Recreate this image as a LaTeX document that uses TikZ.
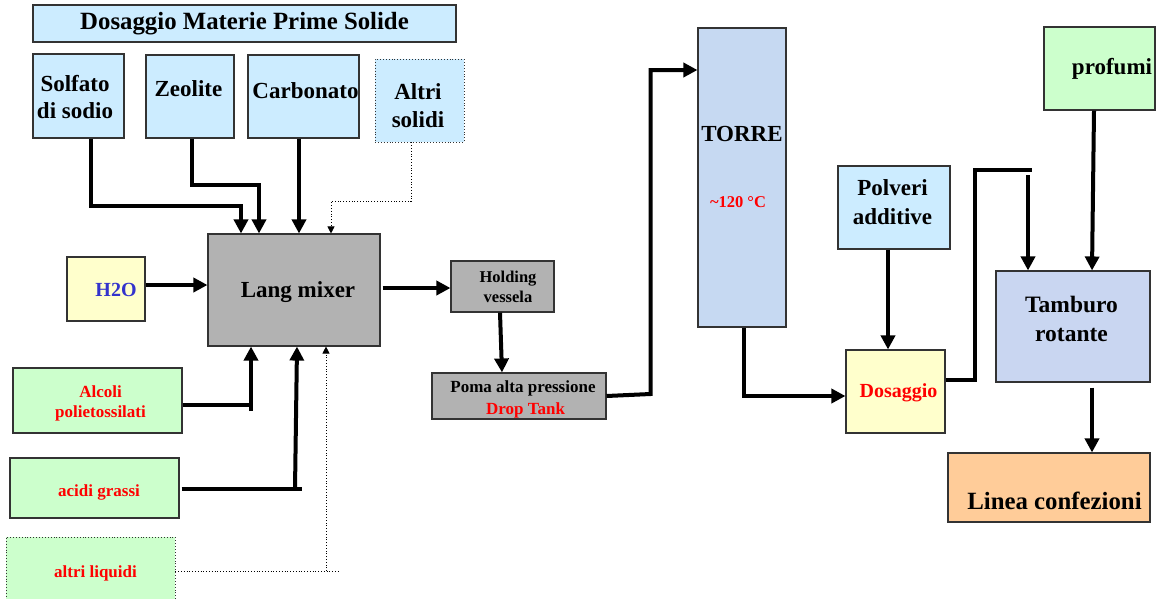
\documentclass[tikz,border=0pt]{standalone}
\usepackage{fontspec}
\setmainfont{Liberation Serif}
\usetikzlibrary{arrows.meta,calc}

\definecolor{solidblue}{HTML}{CCECFF}
\definecolor{liqgreen}{HTML}{CCFFCC}
\definecolor{paleyellow}{HTML}{FFFFCC}
\definecolor{mixgray}{HTML}{B2B2B2}
\definecolor{packorange}{HTML}{FFCC99}
\definecolor{towerblue}{HTML}{C6D9F2}
\definecolor{drumblue}{HTML}{C9D6F1}
\definecolor{labelred}{HTML}{FF0000}
\definecolor{waterblue}{HTML}{3333CC}
\definecolor{edgegray}{HTML}{333333}

\tikzset{
  box/.style={draw=edgegray, line width=1.1pt, inner sep=0pt, rectangle},
  dotbox/.style={draw=edgegray, line width=0.9pt, dotted, inner sep=0pt, rectangle},
  sz/.style n args={2}{minimum width=#1pt, minimum height=#2pt},
  txt/.style={font=\bfseries\fontsize{#1}{28}\selectfont, align=center, inner sep=0pt},
  txt/.default=23,
  flow/.style={line width=4pt, -{Triangle[length=14pt,width=14pt]}},
  pipe/.style={line width=4pt},
  thinflow/.style={line width=0.8pt, dotted, -{Triangle[length=7pt,width=7pt]}},
  thinpipe/.style={line width=0.8pt, dotted},
}

\begin{document}
\begin{tikzpicture}[x=1pt,y=-1pt]
\useasboundingbox (0,0) rectangle (1164,598);
\fill[white] (0,0) rectangle (1164,598);

% ---- solid raw materials
\node[box, fill=solidblue, sz={423}{37}] (title) at (244.5,23.5) {};
\node[txt=24.8] (ttitle) at (244.5,23.5) {Dosaggio Materie Prime Solide};

\node[box, fill=solidblue, sz={91}{84}] (solf) at (78.5,96) {};
\node[txt, font=\bfseries\fontsize{23}{27}\selectfont] (tsolf) at (75,97) {Solfato\\di sodio};
\node[box, fill=solidblue, sz={88}{83}] (zeol) at (190,96.5) {};
\node[txt] (tzeol) at (188.5,89) {Zeolite};
\node[box, fill=solidblue, sz={111}{83}] (carb) at (303.5,96.5) {};
\node[txt] (tcarb) at (305.5,91) {Carbonato};
\node[dotbox, fill=solidblue, sz={89}{83}] (sol) at (419.5,100.5) {};
\node[txt, font=\bfseries\fontsize{23}{28}\selectfont] (tsol) at (418,106) {Altri\\solidi};

% ---- mixer and liquids
\node[box, fill=mixgray, sz={172}{112}] (lang) at (294,290) {};
\node[txt] (tlang) at (298,292) {Lang mixer};
\node[box, fill=paleyellow, sz={78}{64}] (h2o) at (106,289) {};
\node[txt=20, text=waterblue] (th2o) at (116,290) {H2O};

\node[box, fill=liqgreen, sz={169}{65}] (alc) at (97.5,400.5) {};
\node[txt=17, text=labelred, font=\bfseries\fontsize{17}{20}\selectfont] (talc) at (100.5,403) {Alcoli\\polietossilati};
\node[box, fill=liqgreen, sz={169}{60}] (acid) at (94.5,488) {};
\node[txt=17, text=labelred] (tacid) at (99,492) {acidi grassi};
\node[dotbox, fill=liqgreen, sz={169}{70}] (liq) at (90.5,572) {};
\node[txt=17, text=labelred] (tliq) at (95.5,573) {altri liquidi};

% ---- slurry line
\node[box, fill=mixgray, sz={103}{51}] (hold) at (502.5,286.5) {};
\node[txt=16.5, font=\bfseries\fontsize{16.5}{20}\selectfont] (thold) at (508,287) {Holding\\vessela};
\node[box, fill=mixgray, sz={174}{46}] (poma) at (519,396) {};
\node[txt=17] (tpoma) at (523,388) {Poma alta pressione};
\node[txt=17, text=labelred] (tdrop) at (525.5,410) {Drop Tank};

\node[box, fill=towerblue, sz={88}{299}] (torre) at (742,177.5) {};
\node[txt] (ttorre) at (742,134) {TORRE};
\node[txt=16.5, text=labelred] (ttemp) at (738,202) {\char"007E 120 °C};

% ---- post-dosing
\node[box, fill=solidblue, sz={112}{83}] (polv) at (894,207.5) {};
\node[txt, font=\bfseries\fontsize{23}{29}\selectfont] (tpolv) at (892.5,202) {Polveri\\additive};
\node[box, fill=paleyellow, sz={99}{83}] (dosag) at (895.5,391.5) {};
\node[txt=20, text=labelred] (tdosag) at (898.5,393) {Dosaggio};
\node[box, fill=drumblue, sz={154}{111}] (tamb) at (1073,326.5) {};
\node[txt, font=\bfseries\fontsize{23.5}{29}\selectfont] (ttamb) at (1071.5,318.5) {Tamburo\\rotante};
\node[box, fill=liqgreen, sz={111}{83}] (prof) at (1099.5,68.5) {};
\node[txt] (tprof) at (1112,69) {profumi};
\node[box, fill=packorange, sz={202}{69}] (linea) at (1049,487.5) {};
\node[txt=24.8] (tlinea) at (1054.5,501) {Linea confezioni};

% ---- feed connectors into the mixer
\draw[flow] ([xshift=12.5]solf.south) -- ++(0,67) -| ([xshift=-53]lang.north);
\draw[flow] ([xshift=2]zeol.south) -- ++(0,46) -| ([xshift=-35]lang.north);
\draw[flow] ([xshift=-4.5]carb.south) -- ([xshift=5]lang.north);
\draw[thinflow] ([xshift=-8.5]sol.south) -- ++(0,59) -| ([xshift=37]lang.north);
\draw[flow] ([yshift=4]h2o.east) -- ([yshift=4]h2o.east -| lang.west);

\coordinate (alcT) at ([xshift=-43]lang.south |- alc.east);
\draw[pipe] ([yshift=-4.5]alc.east) -- ([yshift=-4.5,xshift=2]alcT);
\draw[flow] ([yshift=-10.5]alcT) -- ([xshift=-43]lang.south);

\coordinate (acidT) at ([xshift=1]lang.south |- acid.east);
\draw[pipe] ([yshift=-1,xshift=2]acid.east) -- ([yshift=-1,xshift=7]acidT);
\draw[flow] ([yshift=-1]acidT) -- ([xshift=3]lang.south);

\coordinate (liqT) at ([xshift=32]lang.south |- liq.east);
\draw[thinpipe] ([yshift=1]liq.east) -- ([yshift=1,xshift=13]liqT);
\draw[thinflow] ([yshift=1]liqT) -- ([xshift=32]lang.south);

% ---- slurry to tower
\draw[flow] ([xshift=2,yshift=2]lang.east) -- ([yshift=2]lang.east -| hold.west);
\draw[flow] ([xshift=-2.5]hold.south) -- ([xshift=-17]poma.north);
\coordinate (riser) at ([xshift=44,yshift=2]poma.east);
\draw[flow] (poma.east) -- (riser) |- ([yshift=107.5]torre.west);

% ---- tower to dosing and drum
\draw[flow] ([xshift=2]torre.south) |- ([yshift=-4.5]dosag.west);
\draw[flow] ([xshift=-6]polv.south) -- ([xshift=-6]polv.south |- dosag.north);
\coordinate (topbend) at (975,170);
\coordinate (topend) at (1032,170);
\draw[pipe] ([yshift=11.5]dosag.east) -| (topbend) -- (topend);
\draw[flow] ([xshift=-45,yshift=95]tamb.north) -- ([xshift=-45]tamb.north);
\draw[flow] ([xshift=-5.5]prof.south) -- ([xshift=19]tamb.north);
\draw[flow] ([xshift=19,yshift=-5]tamb.south) -- ([xshift=43]linea.north);
\end{tikzpicture}
\end{document}
